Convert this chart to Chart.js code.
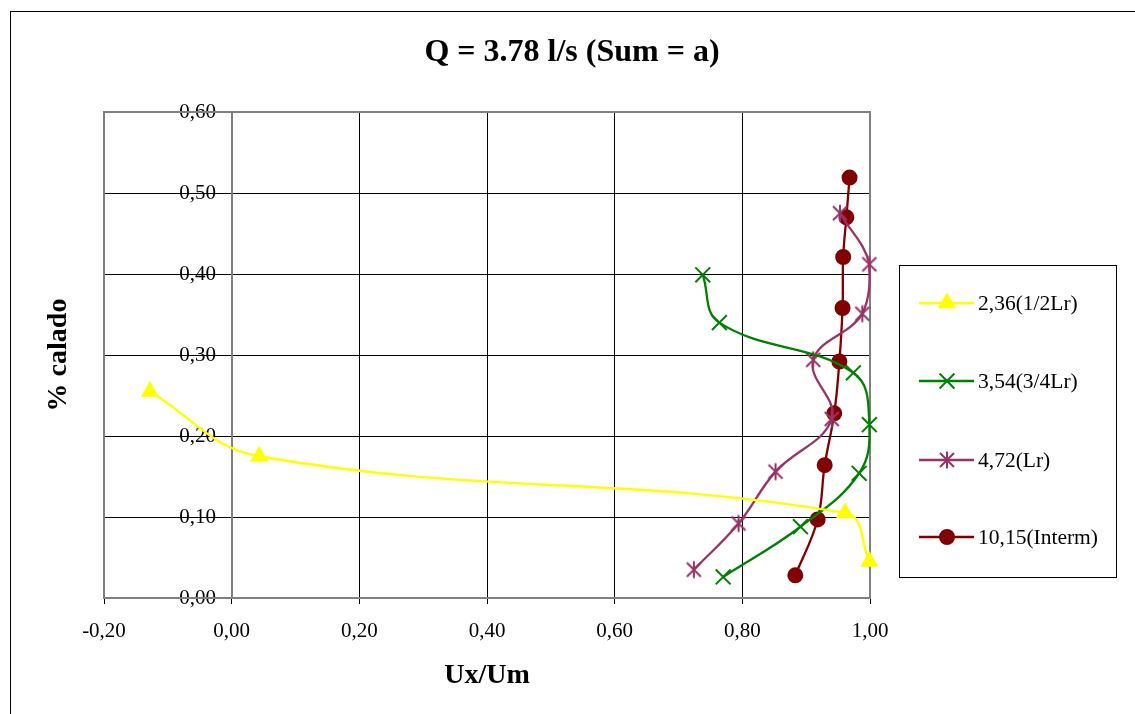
<!DOCTYPE html>
<html>
<head>
<meta charset="utf-8">
<script src="https://cdn.jsdelivr.net/npm/chart.js@4.4.1/dist/chart.umd.min.js"></script>
<style>
  html, body { margin: 0; padding: 0; background: #fff; }
  canvas { display: block; }
</style>
</head>
<body>
<canvas id="chart" width="1135" height="714"></canvas>
<script>
// Velocity profiles (Ux/Um vs % calado)
const titleText = 'Q = 3.78 l/s (Sum = a)';
const xTitle = 'Ux/Um';
const yTitle = '% calado';

const seriesNames = ['2,36(1/2Lr)', '3,54(3/4Lr)', '4,72(Lr)', '10,15(Interm)'];

const yellowX = [-0.128, 0.043, 0.961, 0.999];
const yellowY = [0.255, 0.175, 0.105, 0.045];

const greenX = [0.738, 0.764, 0.974, 0.999, 0.983, 0.891, 0.770];
const greenY = [0.399, 0.340, 0.278, 0.214, 0.154, 0.088, 0.026];

const purpleX = [0.953, 0.999, 0.988, 0.911, 0.940, 0.852, 0.794, 0.724];
const purpleY = [0.475, 0.412, 0.351, 0.294, 0.221, 0.156, 0.092, 0.035];

const redX = [0.968, 0.963, 0.958, 0.957, 0.952, 0.944, 0.929, 0.918, 0.883];
const redY = [0.519, 0.470, 0.421, 0.358, 0.292, 0.228, 0.164, 0.097, 0.028];

const xTicks = [-0.2, 0, 0.2, 0.4, 0.6, 0.8, 1.0];
const yTicks = [0, 0.1, 0.2, 0.3, 0.4, 0.5, 0.6];

function toPoints(xs, ys) {
    return xs.map((x, i) => ({ x: x, y: ys[i] }));
}

function fmt(v) {
    if (Math.abs(v) < 1e-9) v = 0;
    return v.toFixed(2).replace('.', ',');
}

// excel style star: X plus a vertical bar
function makeStar(color) {
    const c = document.createElement('canvas');
    c.width = 20;
    c.height = 20;
    const g = c.getContext('2d');
    g.strokeStyle = color;
    g.lineWidth = 2;
    g.beginPath();
    g.moveTo(3, 3); g.lineTo(17, 17);
    g.moveTo(17, 3); g.lineTo(3, 17);
    g.moveTo(10, 1.5); g.lineTo(10, 18.5);
    g.stroke();
    return c;
}

const styles = [
    { color: '#ffff00', pointStyle: 'triangle', radius: 8.5 },
    { color: '#008000', pointStyle: 'crossRot', radius: 10.5 },
    { color: '#993366', pointStyle: makeStar('#993366'), radius: 10 },
    { color: '#800000', pointStyle: 'circle', radius: 7 }
];

const allData = [
    toPoints(yellowX, yellowY),
    toPoints(greenX, greenY),
    toPoints(purpleX, purpleY),
    toPoints(redX, redY)
];

const datasets = allData.map((d, i) => ({
    label: seriesNames[i],
    data: d,
    showLine: true,
    tension: 0.4,
    borderColor: styles[i].color,
    backgroundColor: styles[i].color,
    borderWidth: 2.3,
    pointStyle: styles[i].pointStyle,
    pointRadius: styles[i].radius,
    pointBorderWidth: 2,
    pointBorderColor: styles[i].color,
    pointBackgroundColor: styles[i].color,
    clip: false
}));

const serif = '"Liberation Serif", "Times New Roman", serif';

const decor = {
    id: 'decor',
    beforeDatasetsDraw(chart) {
        const a = chart.chartArea;
        const ctx = chart.ctx;
        ctx.save();
        ctx.strokeStyle = '#808080';
        ctx.lineWidth = 2;
        ctx.strokeRect(a.left, a.top, a.right - a.left, a.bottom - a.top);
        ctx.restore();
    },
    afterDraw(chart) {
        const ctx = chart.ctx;
        const a = chart.chartArea;
        ctx.save();

        // outer frame
        ctx.strokeStyle = '#000';
        ctx.lineWidth = 1;
        ctx.strokeRect(10.5, 11.5, 1200, 800);

        // titles
        ctx.fillStyle = '#000';
        ctx.textAlign = 'center';
        ctx.textBaseline = 'middle';
        ctx.font = 'bold 32px ' + serif;
        ctx.fillText(titleText, 572, 53);

        ctx.font = 'bold 28px ' + serif;
        ctx.fillText(xTitle, (a.left + a.right) / 2, 676);

        ctx.save();
        ctx.translate(59, (a.top + a.bottom) / 2);
        ctx.rotate(-Math.PI / 2);
        ctx.fillText(yTitle, 0, 0);
        ctx.restore();

        // legend box
        ctx.strokeStyle = '#000';
        ctx.lineWidth = 1;
        ctx.strokeRect(899.5, 265.5, 217, 312);

        const rows = [303, 381, 460, 537];
        ctx.font = '21.5px ' + serif;
        ctx.textAlign = 'left';
        rows.forEach((y, i) => {
            const s = styles[i];
            ctx.strokeStyle = s.color;
            ctx.lineWidth = 2.3;
            ctx.beginPath();
            ctx.moveTo(919, y);
            ctx.lineTo(974, y);
            ctx.stroke();
            ctx.fillStyle = s.color;
            ctx.lineWidth = 2;
            Chart.helpers.drawPoint(ctx, {
                pointStyle: s.pointStyle,
                radius: s.radius,
                rotation: 0,
                borderWidth: 2
            }, 947, y);
            ctx.fillStyle = '#000';
            ctx.fillText(seriesNames[i], 978, y + 1);
        });

        ctx.restore();
    }
};

new Chart(document.getElementById('chart'), {
    type: 'scatter',
    data: { datasets: datasets },
    plugins: [decor],
    options: {
        responsive: false,
        animation: false,
        layout: { padding: { left: 104, right: 265, top: 112, bottom: 0 } },
        plugins: {
            legend: { display: false },
            title: { display: false },
            tooltip: { enabled: false }
        },
        scales: {
            x: {
                type: 'linear',
                min: xTicks[0],
                max: xTicks[xTicks.length - 1],
                afterBuildTicks: s => { s.ticks = xTicks.map(v => ({ value: v })); },
                afterFit: s => { s.height = 116; },
                ticks: {
                    callback: v => fmt(v),
                    color: '#000',
                    font: { family: serif, size: 21 },
                    padding: 15,
                    maxRotation: 0
                },
                grid: { color: '#000', lineWidth: 1, tickLength: 6 },
                border: { color: '#808080', width: 2 }
            },
            y: {
                type: 'linear',
                position: { x: 0 },
                min: yTicks[0],
                max: yTicks[yTicks.length - 1],
                afterBuildTicks: s => { s.ticks = yTicks.map(v => ({ value: v })); },
                ticks: {
                    // labels are right-aligned on the axis line, pad them off it
                    callback: v => fmt(v) + '   ',
                    color: '#000',
                    font: { family: serif, size: 21 },
                    padding: 8
                },
                grid: { color: '#000', lineWidth: 1, tickLength: 6 },
                border: { color: '#808080', width: 2 }
            }
        }
    }
});
</script>
</body>
</html>
